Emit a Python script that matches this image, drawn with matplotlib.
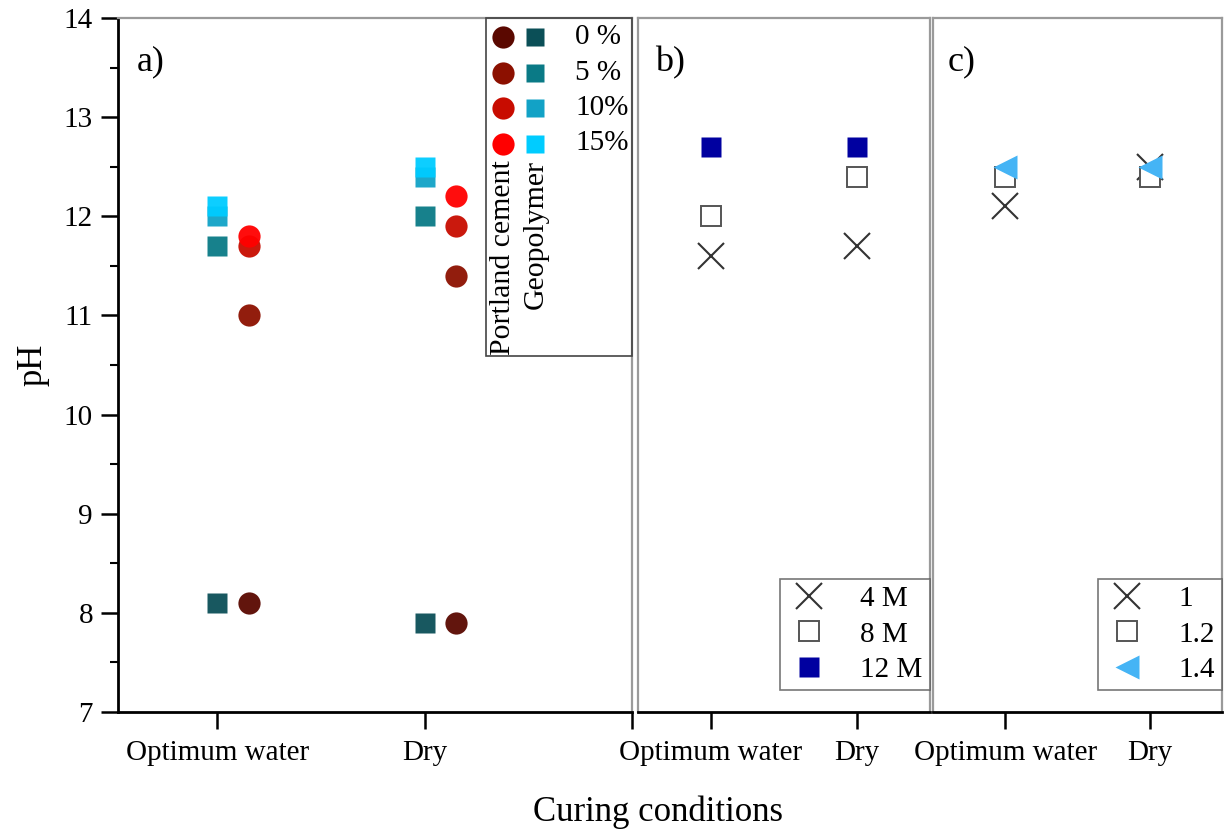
import numpy as np
import matplotlib.pyplot as plt
from matplotlib.patches import Rectangle

plt.rcParams['font.family'] = ['Liberation Serif', 'DejaVu Serif']

conditions = ['Optimum water', 'Dry']
# panel a) additions of Portland cement (circles) and geopolymer (squares)
addition_labels = ['0 %', '5 %', '10%', '15%']
pc_colors = ['#5a0800', '#8c1000', '#c80c00', '#ff0000']
gp_colors = ['#0b4f57', '#0a7a86', '#12a2c6', '#00ccff']
pc_ph = [[8.1, 7.9], [11.0, 11.4], [11.7, 11.9], [11.8, 12.2]]
gp_ph = [[8.1, 7.9], [11.7, 12.0], [12.0, 12.4], [12.1, 12.5]]

# panel b) NaOH molarity
molar_labels = ['4 M', '8 M', '12 M']
molar_ph = [[11.6, 11.7], [12.0, 12.4], [12.7, 12.7]]

# panel c) ratio
ratio_labels = ['1', '1.2', '1.4']
ratio_ph = [[12.1, 12.5], [12.4, 12.4], [12.5, 12.5]]

W, H = 1225, 836
fig = plt.figure(figsize=(W/100, H/100), dpi=100)

def px_axes(l, r, t, b):
    return fig.add_axes([l/W, 1-b/H, (r-l)/W, (b-t)/H])

ax_a = px_axes(118, 632, 18, 712)
ax_b = px_axes(638, 930, 18, 712)
ax_c = px_axes(933, 1222, 18, 712)

gray = '#9a9a9a'
for ax in (ax_a, ax_b, ax_c):
    ax.set_ylim(7, 14)
    for s in ('top', 'right', 'left'):
        ax.spines[s].set_color(gray)
        ax.spines[s].set_linewidth(1.6)
    ax.spines['bottom'].set_linewidth(2)
    ax.tick_params(axis='x', direction='out', length=12, width=1.8, labelsize=21, pad=8)

ax_a.spines['left'].set_color('black')
ax_a.spines['left'].set_linewidth(2)

x = np.arange(1, len(conditions) + 1)

# panel a
for i in range(len(addition_labels)):
    ax_a.plot(x, gp_ph[i], 's', ms=14, color=gp_colors[i], mec='none', alpha=0.95)
for i in range(len(addition_labels)):
    ax_a.plot(x + 0.15, pc_ph[i], 'o', ms=16, color=pc_colors[i], mec='none', alpha=0.95)

ax_a.set_xlim(0.52, 3.0)
ax_a.set_xticks([1, 2, 3])
ax_a.set_xticklabels(conditions + [''])
ax_a.set_yticks(range(7, 15))
ax_a.set_yticks(np.arange(7.5, 14, 1), minor=True)
ax_a.tick_params(axis='y', which='major', direction='out', length=12, width=1.8, labelsize=21, pad=6)
ax_a.tick_params(axis='y', which='minor', direction='out', length=6, width=1.5)
ax_a.set_ylabel('pH', fontsize=25, labelpad=10)

# custom legend for panel a
ax_a.add_patch(Rectangle((0.716, 0.513), 0.284, 0.487, transform=ax_a.transAxes,
                         fill=False, ec='#444444', lw=1.2, clip_on=False, zorder=5))
for i, lab in enumerate(addition_labels):
    yy = 1 - (19 + 35.5 * i) / 694
    ax_a.plot(0.749, yy, 'o', ms=16, color=pc_colors[i], mec='none', transform=ax_a.transAxes, clip_on=False)
    ax_a.plot(0.812, yy, 's', ms=13, color=gp_colors[i], mec='none', transform=ax_a.transAxes, clip_on=False)
    ax_a.text(0.89, yy, lab, fontsize=21, va='center', ha='left', transform=ax_a.transAxes)
ax_a.text(0.749, 1 - 142/694, 'Portland cement', rotation=90, fontsize=21.5, ha='center', va='top',
          transform=ax_a.transAxes)
ax_a.text(0.812, 1 - 142/694, 'Geopolymer', rotation=90, fontsize=21.5, ha='center', va='top',
          transform=ax_a.transAxes)
ax_a.text(0.037, 0.96, 'a)', fontsize=26, va='top', transform=ax_a.transAxes)

# panel b
ax_b.plot(x, molar_ph[0], 'x', ms=19, mew=1.5, color='#333333', label=molar_labels[0])
ax_b.plot(x, molar_ph[1], 's', ms=15, mew=1.4, mfc='white', mec='#555555', label=molar_labels[1])
ax_b.plot(x, molar_ph[2], 's', ms=14, color='#0000a0', mec='none', label=molar_labels[2])
ax_b.text(0.06, 0.96, 'b)', fontsize=26, va='top', transform=ax_b.transAxes)

# panel c
ax_c.plot(x, ratio_ph[0], 'x', ms=19, mew=1.5, color='#333333', label=ratio_labels[0])
ax_c.plot(x, ratio_ph[1], 's', ms=15, mew=1.4, mfc='white', mec='#555555', label=ratio_labels[1])
ax_c.plot(x, ratio_ph[2], '<', ms=17, color='#45b4f5', mec='none', label=ratio_labels[2])
ax_c.text(0.05, 0.96, 'c)', fontsize=26, va='top', transform=ax_c.transAxes)

for ax in (ax_b, ax_c):
    ax.set_xlim(0.5, 2.5)
    ax.set_xticks(x)
    ax.set_xticklabels(conditions)
    ax.set_yticks([])
    leg = ax.legend(loc='lower right', bbox_to_anchor=(1.0, 22/694), fontsize=21, frameon=True,
                    fancybox=False, borderaxespad=0.0, handletextpad=1.0, labelspacing=0.3,
                    borderpad=0.25, handlelength=1.5)
    leg.get_frame().set_edgecolor('#555555')
    leg.get_frame().set_linewidth(1.2)

fig.text(658/W, 1 - 812/H, 'Curing conditions', fontsize=25, ha='center', va='center')

fig.savefig('out.png', dpi=100)
